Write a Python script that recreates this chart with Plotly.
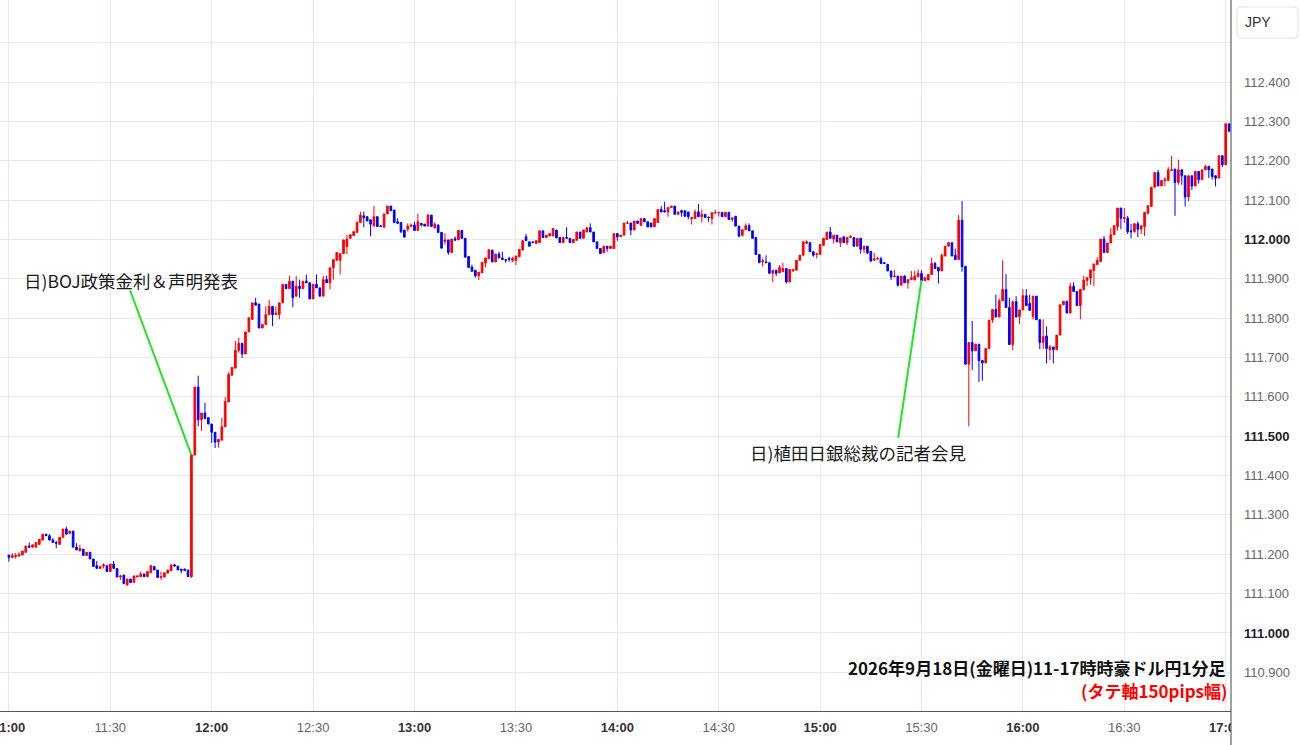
import pandas as pd
import plotly.graph_objects as go

# ---------------- data (1-minute candles, 11:00 - 17:01) ----------------
start_time = "2026-09-18 11:00"

opens = [
111.198,111.192,111.194,111.196,111.198,111.205,111.221,111.218,111.218,111.225,
111.236,111.251,111.247,111.236,111.230,111.225,111.243,111.264,111.253,111.259,
111.218,111.209,111.213,111.197,111.205,111.188,111.171,111.164,111.170,111.171,
111.156,111.175,111.164,111.142,111.147,111.122,111.137,111.128,111.142,111.143,
111.150,111.143,111.153,111.169,111.160,111.141,111.142,111.152,111.158,111.173,
111.170,111.162,111.162,111.160,111.143,111.452,111.625,111.542,111.559,111.547,
111.531,111.510,111.485,111.490,111.524,111.587,111.655,111.673,111.718,111.736,
111.709,111.765,111.797,111.839,111.836,111.775,111.784,111.809,111.830,111.809,
111.809,111.839,111.886,111.875,111.894,111.856,111.881,111.875,111.894,111.890,
111.849,111.886,111.877,111.856,111.898,111.890,111.928,111.947,111.947,111.964,
111.982,112.003,112.010,112.018,112.043,112.060,112.058,112.050,112.034,112.058,
112.035,112.031,112.065,112.085,112.075,112.045,112.043,112.024,112.026,112.033,
112.037,112.023,112.041,112.039,112.034,112.062,112.029,112.037,112.018,111.995,
111.999,111.967,112.002,111.999,112.023,112.003,111.957,111.930,111.922,111.908,
111.915,111.940,111.951,111.973,111.943,111.963,111.953,111.949,111.952,111.947,
111.947,111.956,111.973,112.007,111.994,111.994,111.990,111.992,112.022,112.005,
112.009,112.009,112.024,112.005,111.992,112.005,112.003,111.992,111.998,112.019,
112.003,112.019,112.030,112.019,111.994,111.977,111.966,111.983,111.977,111.977,
112.015,112.007,112.011,112.041,112.042,112.024,112.047,112.036,112.053,112.045,
112.042,112.032,112.043,112.076,112.073,112.070,112.081,112.085,112.064,112.073,
112.073,112.070,112.053,112.053,112.070,112.058,112.064,112.057,112.053,112.067,
112.068,112.069,112.058,112.069,112.051,112.059,112.034,112.011,112.025,112.035,
112.022,112.005,111.962,111.943,111.943,111.941,111.914,111.922,111.915,111.918,
111.926,111.892,111.920,111.922,111.947,111.960,111.990,111.992,111.969,111.962,
111.962,111.985,112.000,112.019,112.001,112.011,111.992,112.007,111.992,112.005,
112.005,111.983,112.003,111.975,111.983,111.970,111.947,111.950,111.951,111.941,
111.937,111.920,111.905,111.907,111.884,111.907,111.890,111.898,111.897,111.905,
111.914,111.895,111.897,111.911,111.939,111.929,111.920,111.958,111.983,111.992,
111.960,111.949,112.049,111.932,111.683,111.738,111.717,111.734,111.693,111.686,
111.723,111.795,111.822,111.803,111.844,111.873,111.827,111.733,111.842,111.804,
111.821,111.857,111.837,111.804,111.856,111.796,111.738,111.755,111.720,111.727,
111.720,111.757,111.834,111.843,111.813,111.881,111.868,111.832,111.872,111.896,
111.902,111.921,111.936,111.944,112.001,111.967,111.991,112.012,112.033,112.080,
112.053,112.054,112.022,112.020,112.040,112.026,112.033,112.067,112.084,112.133,
112.170,112.136,112.150,112.150,112.175,112.179,112.145,112.177,112.162,112.108,
112.162,112.136,112.173,112.152,112.177,112.186,112.179,112.162,112.156,112.213,
112.190,112.294]

highs = [
111.198,111.203,111.203,111.205,111.208,111.221,111.230,111.224,111.230,111.238,
111.251,111.251,111.251,111.241,111.234,111.243,111.264,111.270,111.259,111.259,
111.228,111.224,111.213,111.205,111.205,111.188,111.183,111.169,111.177,111.171,
111.175,111.183,111.164,111.148,111.148,111.137,111.137,111.145,111.145,111.156,
111.150,111.156,111.171,111.169,111.160,111.156,111.153,111.160,111.173,111.175,
111.170,111.162,111.164,111.160,111.453,111.625,111.654,111.559,111.585,111.547,
111.531,111.510,111.492,111.547,111.600,111.663,111.675,111.742,111.750,111.736,
111.765,111.801,111.839,111.852,111.836,111.784,111.830,111.847,111.830,111.830,
111.839,111.886,111.886,111.908,111.894,111.907,111.898,111.894,111.911,111.890,
111.886,111.911,111.877,111.907,111.908,111.928,111.949,111.967,111.964,111.999,
112.012,112.012,112.020,112.044,112.071,112.071,112.058,112.050,112.085,112.058,
112.035,112.065,112.085,112.085,112.075,112.054,112.043,112.024,112.041,112.041,
112.045,112.066,112.041,112.039,112.065,112.062,112.044,112.037,112.018,112.016,
111.999,112.001,112.008,112.023,112.024,112.003,111.957,111.936,111.922,111.917,
111.942,111.953,111.974,111.973,111.963,111.969,111.969,111.949,111.956,111.956,
111.958,111.975,111.997,112.014,111.994,111.994,111.997,112.022,112.022,112.011,
112.015,112.028,112.024,112.005,112.005,112.031,112.003,112.000,112.019,112.019,
112.024,112.030,112.041,112.019,111.994,111.977,111.983,111.983,111.983,112.015,
112.015,112.011,112.042,112.047,112.042,112.047,112.047,112.053,112.053,112.045,
112.042,112.053,112.076,112.085,112.096,112.081,112.085,112.085,112.070,112.076,
112.073,112.070,112.056,112.076,112.090,112.076,112.064,112.057,112.068,112.076,
112.069,112.069,112.069,112.069,112.055,112.059,112.034,112.025,112.041,112.041,
112.022,112.005,111.962,111.952,111.960,111.941,111.922,111.922,111.935,111.941,
111.926,111.924,111.924,111.947,111.960,111.994,111.998,111.992,111.969,111.964,
111.987,112.003,112.019,112.032,112.011,112.011,112.004,112.007,112.005,112.011,
112.005,112.003,112.003,111.983,111.983,111.970,111.966,111.956,111.956,111.943,
111.937,111.920,111.922,111.907,111.907,111.909,111.898,111.920,111.920,111.924,
111.922,111.903,111.911,111.954,111.943,111.929,111.964,111.983,111.994,111.992,
111.977,112.062,112.098,111.932,111.738,111.793,111.734,111.734,111.693,111.723,
111.795,111.822,111.860,111.850,111.947,111.912,111.852,111.842,111.856,111.821,
111.874,111.874,111.860,111.856,111.856,111.796,111.797,111.779,111.732,111.727,
111.757,111.834,111.843,111.843,111.890,111.891,111.868,111.873,111.908,111.903,
111.923,111.938,111.955,112.001,112.009,111.991,112.029,112.035,112.080,112.080,
112.080,112.060,112.040,112.040,112.046,112.035,112.069,112.086,112.133,112.170,
112.177,112.150,112.158,112.184,112.213,112.179,112.203,112.177,112.162,112.162,
112.162,112.173,112.173,112.177,112.190,112.186,112.179,112.162,112.213,112.213,
112.296,112.294]

lows = [
111.181,111.190,111.189,111.193,111.198,111.205,111.218,111.218,111.218,111.225,
111.236,111.247,111.236,111.230,111.215,111.225,111.243,111.251,111.253,111.218,
111.211,111.207,111.197,111.197,111.188,111.169,111.164,111.164,111.164,111.156,
111.156,111.164,111.142,111.135,111.125,111.120,111.128,111.128,111.142,111.143,
111.143,111.143,111.153,111.160,111.141,111.135,111.142,111.152,111.158,111.170,
111.160,111.152,111.159,111.143,111.140,111.452,111.525,111.513,111.545,111.531,
111.483,111.470,111.471,111.490,111.524,111.587,111.655,111.673,111.712,111.699,
111.709,111.765,111.797,111.833,111.775,111.775,111.784,111.809,111.780,111.809,
111.797,111.839,111.875,111.875,111.828,111.856,111.852,111.875,111.890,111.849,
111.849,111.877,111.856,111.856,111.890,111.873,111.898,111.947,111.911,111.964,
111.963,112.003,112.010,112.018,112.043,112.031,112.047,112.008,112.034,112.033,
112.033,112.031,112.065,112.073,112.043,112.041,112.016,112.006,112.020,112.033,
112.023,112.023,112.033,112.034,112.034,112.033,112.029,112.018,111.978,111.987,
111.961,111.967,111.998,111.999,112.003,111.955,111.929,111.919,111.903,111.897,
111.915,111.930,111.951,111.943,111.943,111.953,111.949,111.941,111.943,111.943,
111.935,111.956,111.973,111.997,111.983,111.992,111.990,111.992,112.005,112.005,
112.009,112.009,112.004,111.992,111.992,112.003,111.992,111.992,111.998,112.003,
112.003,112.019,112.019,111.994,111.977,111.964,111.966,111.969,111.977,111.977,
111.997,112.007,112.011,112.041,112.011,112.024,112.041,112.036,112.045,112.032,
112.032,112.032,112.043,112.070,112.070,112.058,112.081,112.064,112.064,112.058,
112.059,112.051,112.038,112.053,112.058,112.043,112.056,112.045,112.038,112.067,
112.058,112.058,112.058,112.051,112.045,112.034,112.008,112.007,112.025,112.022,
112.003,111.962,111.941,111.931,111.941,111.914,111.892,111.907,111.915,111.918,
111.888,111.892,111.918,111.922,111.947,111.960,111.990,111.969,111.956,111.952,
111.962,111.985,112.000,112.003,111.990,111.994,111.981,111.992,111.986,112.005,
111.983,111.983,111.964,111.966,111.963,111.945,111.947,111.950,111.939,111.939,
111.920,111.897,111.905,111.880,111.884,111.890,111.875,111.898,111.897,111.905,
111.895,111.895,111.897,111.911,111.926,111.888,111.920,111.958,111.983,111.958,
111.949,111.949,111.918,111.683,111.525,111.668,111.717,111.638,111.641,111.686,
111.723,111.788,111.803,111.803,111.844,111.827,111.733,111.719,111.803,111.785,
111.821,111.832,111.820,111.797,111.796,111.721,111.721,111.685,111.693,111.685,
111.720,111.757,111.834,111.813,111.813,111.868,111.832,111.797,111.872,111.882,
111.885,111.882,111.936,111.944,111.967,111.967,111.991,112.012,112.023,112.026,
112.042,112.014,112.003,112.017,112.006,112.014,112.009,112.063,112.084,112.133,
112.136,112.136,112.135,112.150,112.175,112.060,112.139,112.139,112.084,112.097,
112.126,112.136,112.142,112.152,112.177,112.156,112.152,112.135,112.156,112.184,
112.190,112.275]

closes = [
111.192,111.197,111.197,111.200,111.208,111.221,111.218,111.224,111.230,111.238,
111.251,111.247,111.236,111.230,111.228,111.243,111.264,111.251,111.259,111.218,
111.211,111.215,111.197,111.205,111.188,111.169,111.164,111.169,111.173,111.156,
111.175,111.164,111.142,111.145,111.125,111.137,111.128,111.145,111.145,111.150,
111.143,111.156,111.171,111.160,111.141,111.143,111.153,111.160,111.173,111.170,
111.160,111.159,111.159,111.143,111.453,111.625,111.542,111.559,111.545,111.531,
111.510,111.485,111.492,111.524,111.588,111.657,111.675,111.718,111.736,111.709,
111.765,111.801,111.839,111.833,111.775,111.784,111.809,111.830,111.809,111.813,
111.839,111.886,111.875,111.894,111.852,111.881,111.875,111.894,111.890,111.849,
111.886,111.877,111.856,111.898,111.890,111.928,111.949,111.967,111.964,111.999,
112.001,112.012,112.020,112.044,112.062,112.055,112.047,112.039,112.058,112.033,
112.033,112.065,112.085,112.073,112.043,112.041,112.020,112.006,112.034,112.037,
112.023,112.045,112.037,112.034,112.062,112.033,112.039,112.018,111.978,111.999,
111.967,112.001,111.998,112.023,112.003,111.955,111.929,111.919,111.908,111.917,
111.942,111.953,111.974,111.943,111.963,111.953,111.949,111.947,111.949,111.952,
111.958,111.975,111.997,111.997,111.983,111.992,111.997,112.022,112.005,112.011,
112.015,112.028,112.004,111.992,112.005,112.003,111.992,112.000,112.019,112.003,
112.024,112.030,112.019,111.994,111.977,111.964,111.983,111.977,111.983,112.015,
112.007,112.011,112.042,112.042,112.024,112.047,112.041,112.053,112.045,112.032,
112.032,112.053,112.076,112.070,112.070,112.081,112.085,112.064,112.070,112.069,
112.059,112.058,112.056,112.070,112.058,112.064,112.056,112.056,112.068,112.068,
112.069,112.058,112.069,112.051,112.055,112.034,112.008,112.025,112.035,112.022,
112.003,111.962,111.941,111.946,111.941,111.914,111.922,111.914,111.929,111.926,
111.892,111.924,111.924,111.947,111.960,111.994,111.994,111.969,111.960,111.964,
111.987,112.003,112.019,112.003,112.011,111.994,112.004,111.992,112.005,112.008,
111.983,112.003,111.975,111.983,111.966,111.945,111.951,111.952,111.939,111.939,
111.920,111.905,111.907,111.884,111.907,111.890,111.898,111.903,111.907,111.914,
111.895,111.903,111.911,111.939,111.926,111.920,111.960,111.983,111.992,111.958,
111.949,112.049,111.931,111.683,111.738,111.717,111.734,111.692,111.686,111.723,
111.795,111.822,111.803,111.844,111.873,111.827,111.733,111.842,111.803,111.821,
111.857,111.832,111.820,111.856,111.796,111.738,111.753,111.723,111.727,111.720,
111.757,111.834,111.843,111.813,111.881,111.868,111.832,111.873,111.897,111.903,
111.923,111.938,111.947,112.001,111.967,111.991,112.012,112.035,112.080,112.054,
112.056,112.020,112.020,112.040,112.026,112.035,112.069,112.086,112.133,112.170,
112.136,112.150,112.153,112.177,112.177,112.145,112.177,112.162,112.108,112.162,
112.136,112.173,112.152,112.177,112.186,112.177,112.160,112.156,112.213,112.190,
112.294,112.275]

x_tick_times = ["11:00", "11:30", "12:00", "12:30", "13:00", "13:30", "14:00",
                "14:30", "15:00", "15:30", "16:00", "16:30", "17:00"]
y_tick_values = [110.9, 111.0, 111.1, 111.2, 111.3, 111.4, 111.5, 111.6,
                 111.7, 111.8, 111.9, 112.0, 112.1, 112.2, 112.3, 112.4, 112.5]
y_bold_values = [111.0, 111.5, 112.0]

title_text = "2026年9月18日(金曜日)11-17時時豪ドル円1分足"
subtitle_text = "(タテ軸150pips幅)"
note_boj = "日)BOJ政策金利＆声明発表"
note_ueda = "日)植田日銀総裁の記者会見"
# annotation anchors: label position, callout line start / end
boj_label = ("2026-09-18 11:04:00", 111.896)
boj_line = (("2026-09-18 11:35:50", 111.871), ("2026-09-18 11:54:00", 111.452))
ueda_label = ("2026-09-18 14:38:40", 111.458)
ueda_line = (("2026-09-18 15:23:06", 111.496), ("2026-09-18 15:30:00", 111.897))

x_range = ["2026-09-18 10:57:22", "2026-09-18 17:01:34"]
y_range = [110.8016, 112.6087]

# ---------------- figure ----------------
times = pd.date_range(start_time, periods=len(closes), freq="min")

RED = "#ff0000"
BLUE = "#0000ff"
GRID = "#e1eaf2"
GREEN = "#1fe61f"

fig = go.Figure(go.Candlestick(
    x=times, open=opens, high=highs, low=lows, close=closes,
    increasing=dict(line=dict(color=RED, width=1), fillcolor=RED),
    decreasing=dict(line=dict(color=BLUE, width=1), fillcolor=BLUE),
    whiskerwidth=0, showlegend=False, hoverinfo="skip",
))

x_tickvals = [pd.Timestamp("2026-09-18 " + t) for t in x_tick_times]
x_ticktext = []
for t in x_tick_times:
    if t.endswith(":00"):
        x_ticktext.append('<span style="color:#333333"><b>%s</b></span>' % t)
    else:
        x_ticktext.append(t)

y_ticktext = []
for v in y_tick_values:
    if v > 112.45:
        y_ticktext.append("")
    elif any(abs(v - b) < 1e-9 for b in y_bold_values):
        y_ticktext.append('<span style="color:#222222"><b>%.3f</b></span>' % v)
    else:
        y_ticktext.append("%.3f" % v)

W, H = 1300, 745
ML, MR, MT, MB = 0, 69, 0, 34
PW, PH = W - ML - MR, H - MT - MB

def px_x(px):
    return px / PW

def px_y(py):
    return 1 - py / PH

fig.update_layout(
    width=W, height=H,
    margin=dict(l=ML, r=MR, t=MT, b=MB, autoexpand=False),
    paper_bgcolor="white", plot_bgcolor="white",
    font=dict(family="Arial, Liberation Sans, sans-serif", size=13, color="#666666"),
    showlegend=False,
    xaxis=dict(
        type="date", range=x_range, rangeslider=dict(visible=False),
        tickvals=x_tickvals, ticktext=x_ticktext,
        showgrid=True, gridcolor=GRID, gridwidth=1, zeroline=False,
        showline=True, linecolor="#555555", linewidth=1,
        ticks="", tickfont=dict(size=13, color="#666666"),
        ticklabelstandoff=4, ticklabeloverflow="allow", automargin=False,
    ),
    yaxis=dict(
        side="right", range=y_range,
        tickvals=y_tick_values, ticktext=y_ticktext,
        showgrid=True, gridcolor=GRID, gridwidth=1, zeroline=False,
        showline=False, ticks="", tickfont=dict(size=13, color="#666666"),
        ticklabelstandoff=12, automargin=False,
    ),
)

shapes = []
# hide the part of the x tick labels that runs past the price axis
shapes.append(dict(type="rect", xref="paper", yref="paper",
                   x0=1, x1=W / PW, y0=-MB / PH, y1=-0.0005,
                   fillcolor="white", line=dict(width=0), layer="above"))
# price axis line
shapes.append(dict(type="line", xref="paper", yref="paper",
                   x0=1, x1=1, y0=-MB / PH, y1=1,
                   line=dict(color="#444444", width=1), layer="above"))
# currency box (rounded)
bx0, bx1, by0, by1 = px_x(1237), px_x(1298), px_y(38), px_y(7)
rx, ry = px_x(4), 4 / PH
path = (f"M {bx0+rx},{by0} L {bx1-rx},{by0} Q {bx1},{by0} {bx1},{by0+ry} "
        f"L {bx1},{by1-ry} Q {bx1},{by1} {bx1-rx},{by1} L {bx0+rx},{by1} "
        f"Q {bx0},{by1} {bx0},{by1-ry} L {bx0},{by0+ry} Q {bx0},{by0} {bx0+rx},{by0} Z")
shapes.append(dict(type="path", xref="paper", yref="paper", path=path,
                   fillcolor="white", line=dict(color="#e3e3e3", width=1), layer="above"))
# callout lines
for (p0, p1) in (boj_line, ueda_line):
    shapes.append(dict(type="line", xref="x", yref="y",
                       x0=p0[0], y0=p0[1], x1=p1[0], y1=p1[1],
                       line=dict(color=GREEN, width=2), layer="above"))
fig.update_layout(shapes=shapes)

JP = "Noto Sans CJK JP, sans-serif"
annotations = [
    dict(x=boj_label[0], y=boj_label[1], xref="x", yref="y", text=note_boj,
         showarrow=False, xanchor="left", yanchor="middle",
         font=dict(family=JP, size=17.5, color="#1a1a1a")),
    dict(x=ueda_label[0], y=ueda_label[1], xref="x", yref="y", text=note_ueda,
         showarrow=False, xanchor="left", yanchor="middle",
         font=dict(family=JP, size=17.5, color="#1a1a1a")),
    dict(x=px_x(1228), y=px_y(667), xref="paper", yref="paper",
         text="<b>%s</b>" % title_text, showarrow=False,
         xanchor="right", yanchor="middle",
         font=dict(family=JP, size=17, color="#111111")),
    dict(x=px_x(1229), y=px_y(690), xref="paper", yref="paper",
         text="<b>%s</b>" % subtitle_text, showarrow=False,
         xanchor="right", yanchor="middle",
         font=dict(family=JP, size=17, color=RED)),
    dict(x=px_x(1258), y=px_y(22.5), xref="paper", yref="paper",
         text="JPY", showarrow=False, xanchor="center", yanchor="middle",
         font=dict(family="Arial, Liberation Sans, sans-serif", size=14, color="#333333")),
]
fig.update_layout(annotations=annotations)

fig.write_html("out.html", config={"displayModeBar": False},
               post_script="document.body.style.margin='0';document.body.style.overflow='hidden';")
